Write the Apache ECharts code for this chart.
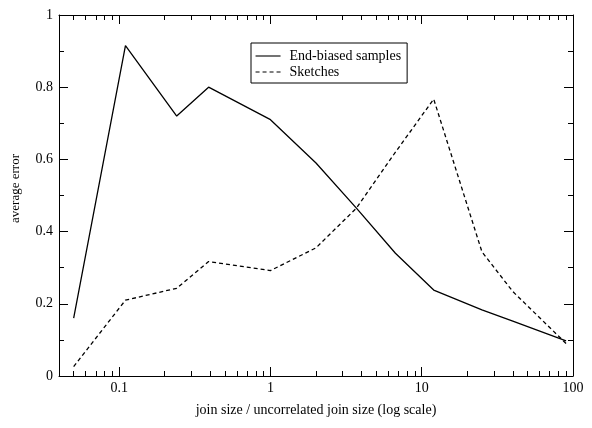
<!DOCTYPE html>
<html>
<head>
<meta charset="utf-8">
<script src="https://cdn.jsdelivr.net/npm/echarts@6/dist/echarts.min.js"></script>
<style>
html,body{margin:0;padding:0;background:#fff;}
#chart{width:592px;height:428px;}
</style>
</head>
<body>
<div id="chart"></div>
<script>
// ---- data ----
const joinRatio = [0.05, 0.11, 0.24, 0.39, 1, 2, 3.7, 6.7, 12, 25, 40, 90];
const endBiased = [0.16, 0.915, 0.72, 0.80, 0.71, 0.59, 0.465, 0.34, 0.238, 0.183, 0.152, 0.097];
const sketches  = [0.026, 0.21, 0.243, 0.317, 0.292, 0.355, 0.465, 0.62, 0.767, 0.344, 0.234, 0.09];
const xMajorTicks = [0.1, 1, 10, 100];
const xMinorTicks = [0.05,0.06,0.07,0.08,0.09,0.2,0.3,0.4,0.5,0.6,0.7,0.8,0.9,2,3,4,5,6,7,8,9,20,30,40,50,60,70,80,90];
const xMin = 0.04, xMax = 100;
const yTicks = [0, 0.2, 0.4, 0.6, 0.8, 1];

const FONT = 'Liberation Serif';
const chart = echarts.init(document.getElementById('chart'));
const pairs = ys => joinRatio.map((x, i) => [x, ys[i]]);
const lg = v => Math.log10(v);

function decoAxis(position, ticks, len, showLine) {
  return {
    type: 'value', position: position, min: lg(xMin), max: lg(xMax),
    axisLine: {show: !!showLine, onZero: false, lineStyle: {color: '#000', width: 1}},
    axisLabel: {show: false}, splitLine: {show: false},
    axisTick: {show: true, inside: true, length: len, customValues: ticks.map(lg),
               lineStyle: {color: '#000', width: 1}}
  };
}

chart.setOption({
  animation: false,
  backgroundColor: '#fff',
  grid: {left: 59, right: 19, top: 15, bottom: 52},
  legend: {
    orient: 'vertical', left: 251, top: 43,
    padding: [6, 6, 4, 4], itemGap: 2, itemWidth: 25, itemHeight: 14,
    borderColor: '#000', borderWidth: 1,
    itemStyle: {opacity: 0},
    lineStyle: {width: 1.1},
    textStyle: {fontFamily: FONT, fontSize: 14, color: '#000', padding: [0, 0, 0, 4]},
    data: ['End-biased samples', 'Sketches']
  },
  xAxis: [
    {
      type: 'log', logBase: 10, min: xMin, max: xMax, position: 'bottom',
      name: 'join size / uncorrelated join size (log scale)',
      nameLocation: 'middle', nameGap: 27,
      nameTextStyle: {fontFamily: FONT, fontSize: 14, color: '#000'},
      axisLine: {show: true, onZero: false, lineStyle: {color: '#000', width: 1}},
      axisTick: {show: false}, splitLine: {show: false}, minorTick: {show: false},
      axisLabel: {
        fontFamily: FONT, fontSize: 14, color: '#000', margin: 5,
        formatter: v => {
          const m = xMajorTicks.find(t => Math.abs(lg(v) - lg(t)) < 1e-6);
          return m === undefined ? '' : String(m);
        }
      }
    },
    decoAxis('bottom', xMajorTicks, 9, false),
    decoAxis('bottom', xMinorTicks, 5, false),
    decoAxis('top', xMajorTicks, 9, true),
    decoAxis('top', xMinorTicks, 5, false)
  ],
  yAxis: [
    {
      type: 'value', min: yTicks[0], max: yTicks[yTicks.length - 1], interval: 0.2, position: 'left',
      name: 'average error', nameLocation: 'middle', nameGap: 37, nameRotate: 90,
      nameTextStyle: {fontFamily: FONT, fontSize: 13, color: '#000', padding: [0, 0, 0, 14]},
      axisLine: {show: true, onZero: false, lineStyle: {color: '#000', width: 1}},
      axisTick: {show: true, inside: true, length: 9, lineStyle: {color: '#000'}},
      minorTick: {show: true, splitNumber: 2, length: 5, lineStyle: {color: '#000'}},
      splitLine: {show: false},
      axisLabel: {fontFamily: FONT, fontSize: 14, color: '#000', margin: 6}
    },
    {
      type: 'value', min: yTicks[0], max: yTicks[yTicks.length - 1], interval: 0.2, position: 'right',
      axisLine: {show: true, onZero: false, lineStyle: {color: '#000', width: 1}},
      axisTick: {show: true, inside: true, length: 9, lineStyle: {color: '#000'}},
      minorTick: {show: true, splitNumber: 2, length: 5, lineStyle: {color: '#000'}},
      splitLine: {show: false},
      axisLabel: {show: false}
    }
  ],
  series: [
    {
      name: 'End-biased samples', type: 'line', xAxisIndex: 0, yAxisIndex: 0,
      data: pairs(endBiased), symbol: 'none', color: '#000',
      lineStyle: {color: '#000', width: 1.3, type: 'solid'}
    },
    {
      name: 'Sketches', type: 'line', xAxisIndex: 0, yAxisIndex: 0,
      data: pairs(sketches), symbol: 'none', color: '#000',
      lineStyle: {color: '#000', width: 1.3, type: [4, 3]}
    }
  ]
});
</script>
</body>
</html>
